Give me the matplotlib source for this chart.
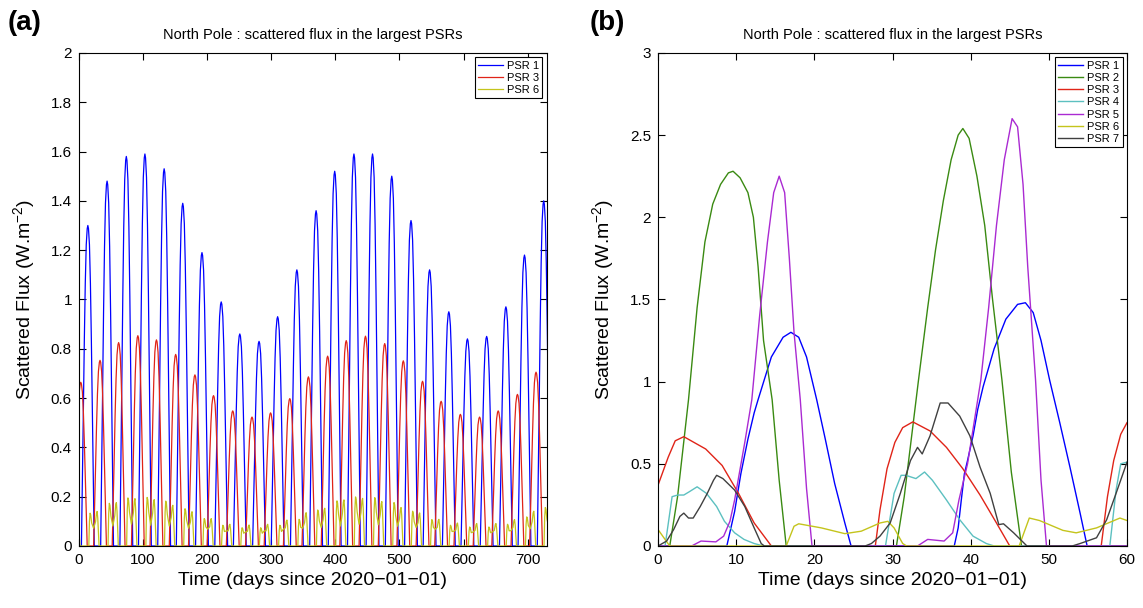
import matplotlib
matplotlib.use("Agg")
import matplotlib.pyplot as plt
import numpy as np

plt.rcParams['font.family'] = ['Liberation Sans', 'DejaVu Sans']
plt.rcParams['mathtext.default'] = 'regular'

# ---- panel (a): two years, one pulse per lunation ----
psr1_peak_days = [14, 44, 74, 103, 133, 162, 192, 222, 251, 281, 310, 340, 370,
                  399, 429, 458, 488, 518, 547, 577, 606, 636, 666, 695, 725]
psr1_peaks = [1.30, 1.48, 1.58, 1.59, 1.53, 1.39, 1.19, 0.99, 0.86, 0.83, 0.93,
              1.12, 1.36, 1.52, 1.59, 1.59, 1.50, 1.32, 1.12, 0.95, 0.84, 0.85,
              0.97, 1.18, 1.40]

psr3_peak_days = [3, 33, 62, 92, 121, 151, 181, 210, 240, 270, 299, 329, 358,
                  388, 417, 447, 477, 506, 536, 565, 595, 625, 654, 684, 713]
psr3_peaks = [0.664, 0.753, 0.825, 0.853, 0.836, 0.777, 0.694, 0.610, 0.548,
              0.523, 0.540, 0.598, 0.686, 0.770, 0.833, 0.851, 0.821, 0.751,
              0.668, 0.587, 0.534, 0.523, 0.548, 0.615, 0.705]

psr6_centre_days = [23, 53, 82, 112, 141, 171, 201, 230, 260, 289, 319, 349, 378,
                    408, 437, 467, 497, 526, 556, 585, 615, 645, 674, 704, 733]
psr6_first = [0.133, 0.173, 0.195, 0.197, 0.182, 0.151, 0.111, 0.084, 0.074,
              0.074, 0.084, 0.108, 0.146, 0.183, 0.199, 0.196, 0.176, 0.141,
              0.107, 0.084, 0.077, 0.077, 0.088, 0.118, 0.156]
psr6_second = [0.140, 0.176, 0.192, 0.188, 0.165, 0.139, 0.111, 0.088, 0.085,
               0.088, 0.105, 0.135, 0.153, 0.187, 0.193, 0.180, 0.156, 0.134,
               0.108, 0.093, 0.091, 0.091, 0.107, 0.141, 0.150]
psr6_dip = [0.072, 0.081, 0.088, 0.084, 0.081, 0.072, 0.068, 0.061, 0.057, 0.061,
            0.068, 0.072, 0.075, 0.081, 0.088, 0.086, 0.080, 0.075, 0.068, 0.060,
            0.057, 0.057, 0.062, 0.070, 0.075]

# pulse profile (days from peak, fraction of peak)
pulse_dt = [-10, -8.5, -7, -5.5, -4, -2.5, -1, 0, 1, 2.5, 4, 5.5, 7, 8.5, 10]
pulse_fr = [0, 0.2, 0.42, 0.64, 0.82, 0.94, 0.99, 1, 0.99, 0.94, 0.82, 0.64,
            0.42, 0.2, 0]

# ---- panel (b): first 60 days ----
b_psr1_t = [0, 8.8, 9.8, 10.6, 11.5, 12.3, 12.8, 14.5, 16, 17, 18, 19, 20.3, 21.4,
            22.6, 23.9, 24.7, 37.9, 38.4, 38.8, 39.2, 39.6, 40.3, 40.9, 41.6, 43,
            44.5, 46, 47, 48, 49, 50.1, 51.4, 52.7, 54.0, 54.9, 60]
b_psr1 = [0, 0, 0.21, 0.44, 0.65, 0.81, 0.89, 1.15, 1.27, 1.30, 1.27, 1.15, 0.89,
          0.65, 0.38, 0.14, 0, 0, 0.11, 0.28, 0.44, 0.52, 0.67, 0.83, 0.97, 1.2,
          1.38, 1.47, 1.48, 1.42, 1.25, 1.01, 0.75, 0.48, 0.20, 0, 0]

b_psr2_t = [0, 1.5, 2.5, 3.9, 5, 6, 7, 8, 9, 9.6, 10.5, 11.5, 12.2, 12.8, 13.5, 14.6,
            15.5, 16.4, 30.5, 31.5, 33.3, 34.5, 35.5, 36.5, 37.5, 38.4, 39, 39.8,
            40.8, 41.8, 42.8, 44, 45.2, 46.5, 60]
b_psr2 = [0, 0, 0.3, 0.89, 1.45, 1.85, 2.08, 2.2, 2.27, 2.28, 2.24, 2.15, 2.0,
          1.7, 1.25, 0.89, 0.4, 0, 0, 0.3, 1.0, 1.45, 1.8, 2.1, 2.35, 2.5, 2.54,
          2.48, 2.25, 1.95, 1.5, 1.01, 0.45, 0, 0]

b_psr3_t = [0, 1.3, 2.2, 3.3, 6.1, 8.2, 10.3, 12.3, 14.5, 27.8, 28.4, 29.3, 30.3,
            31.3, 32.6, 34.8, 36.9, 39.0, 41.2, 43.3, 45.0, 56.7, 57.5, 58.3,
            59.2, 60]
b_psr3 = [0.37, 0.54, 0.64, 0.665, 0.59, 0.49, 0.32, 0.14, 0, 0, 0.22, 0.47, 0.63,
          0.72, 0.755, 0.70, 0.60, 0.47, 0.31, 0.14, 0, 0, 0.3, 0.52, 0.68, 0.75]

b_psr4_t = [0, 0.9, 1.8, 2.5, 3.3, 4.0, 5.0, 6.2, 7.5, 8.5, 9.8, 11.0, 12.3, 13.5,
            29.1, 30.2, 31.1, 31.7, 33.0, 34.1, 35.1, 36.9, 38.6, 40.3, 42.0, 43.0,
            57.8, 58.6, 59.2, 60]
b_psr4 = [0, 0, 0.3, 0.31, 0.31, 0.33, 0.36, 0.32, 0.24, 0.15, 0.08, 0.04, 0.015, 0,
          0, 0.32, 0.43, 0.43, 0.41, 0.45, 0.40, 0.28, 0.16, 0.06, 0.015, 0,
          0, 0.34, 0.5, 0.51]

b_psr5_t = [0, 4.3, 5.5, 7.4, 8.4, 9.2, 9.8, 11.1, 12, 13, 14, 14.8, 15.5, 16.2,
            16.8, 17.4, 18.2, 19, 19.7, 33.2, 34.5, 36.6, 37.7, 38.5, 39.6, 40.5,
            41.3, 42.3, 43.3, 44.3, 45.3, 46, 46.7, 47.3, 48.3, 49, 49.7, 60]
b_psr5 = [0, 0, 0.03, 0.025, 0.06, 0.15, 0.28, 0.63, 0.89, 1.4, 1.85, 2.15, 2.25,
          2.15, 1.75, 1.3, 0.89, 0.35, 0, 0, 0.04, 0.03, 0.08, 0.28, 0.5, 0.77,
          1.01, 1.45, 1.95, 2.35, 2.6, 2.55, 2.2, 1.7, 1.01, 0.4, 0, 0]

b_psr6_t = [0, 1.5, 16.4, 17.4, 18.0, 20.9, 23.9, 26, 28.4, 29.4, 30.2, 31.3, 31.8,
            46.2, 47.5, 48.8, 51.8, 53.5, 56.1, 59.1, 60]
b_psr6 = [0.10, 0, 0, 0.12, 0.135, 0.11, 0.075, 0.09, 0.14, 0.15, 0.11, 0.015, 0,
          0, 0.17, 0.155, 0.095, 0.08, 0.11, 0.17, 0.155]

b_psr7_t = [0, 1.1, 2.0, 2.8, 3.3, 3.9, 4.5, 5.4, 6.3, 7.1, 7.5, 8.3, 9.8, 11.1,
            12.3, 13.2, 13.6, 26.5, 27.3, 28.4, 29.7, 31.0, 32.3, 33.2, 33.8, 34.8,
            36.1, 37.1, 38.6, 39.9, 41.2, 42.5, 43.6, 44.2, 45.5, 47.2, 53.0, 54.0,
            56.1, 57.4, 58.6, 60]
b_psr7 = [0, 0.03, 0.1, 0.18, 0.2, 0.17, 0.17, 0.24, 0.32, 0.40, 0.43, 0.41, 0.34,
          0.24, 0.11, 0.015, 0, 0, 0.015, 0.06, 0.14, 0.32, 0.52, 0.6, 0.56, 0.67,
          0.87, 0.87, 0.79, 0.67, 0.48, 0.32, 0.13, 0.135, 0.08, 0, 0, 0.015,
          0.05, 0.16, 0.32, 0.51]

a_xticks = [0, 100, 200, 300, 400, 500, 600, 700]
a_yticks = [0, 0.2, 0.4, 0.6, 0.8, 1, 1.2, 1.4, 1.6, 1.8, 2]
b_xticks = [0, 10, 20, 30, 40, 50, 60]
b_yticks = [0, 0.5, 1, 1.5, 2, 2.5, 3]

title = 'North Pole : scattered flux in the largest PSRs'
xlab = 'Time (days since 2020\u221201\u221201)'
ylab = 'Scattered Flux (W.m$^{-2}$)'

c_blue = '#0000ff'
c_red = '#e02418'
c_yel = '#c4c41c'
c_green = '#3a8a12'
c_cyan = '#5cc0c0'
c_mag = '#aa2ad2'
c_gray = '#404040'


def pulses(days, heights, dt, fr, start=None):
    t, v = [], []
    if start is not None:
        t += start[0]
        v += start[1]
    for d, h in zip(days, heights):
        t += [d + o for o in dt]
        v += [h * f for f in fr]
    return t, v


def yellow_pulses(centres, h1, dip, h2):
    t, v = [0, 1.5], [0.10, 0]
    for c, a, m, b in zip(centres, h1, dip, h2):
        t += [c - 7.5, c - 6.5, c - 5.5, c - 4.5, c - 3, c, c + 3, c + 4.5, c + 5.5,
              c + 6.5, c + 8.5]
        v += [0, 0.75 * a, a, 0.95 * a, 0.7 * a, m, 0.7 * b, 0.95 * b, b, 0.8 * b, 0]
    return t, v


def style(ax, xt, yt, xlim, ylim):
    ax.set_xlim(xlim)
    ax.set_ylim(ylim)
    ax.set_xticks(xt)
    ax.set_yticks(yt)
    ax.set_xticklabels([('%g' % x) for x in xt])
    ax.set_yticklabels([('%g' % y) for y in yt])
    ax.tick_params(direction='in', top=True, right=True, length=5, width=0.8,
                   labelsize=11, pad=5)
    for s in ax.spines.values():
        s.set_linewidth(0.8)
    ax.set_title(title, fontsize=10.5, pad=10)
    ax.set_xlabel(xlab, fontsize=14, labelpad=4)
    ax.set_ylabel(ylab, fontsize=14, labelpad=10)


fig = plt.figure(figsize=(11.43, 6.08), dpi=100)
ax1 = fig.add_axes([0.069, 0.102, 0.4095, 0.811])
ax2 = fig.add_axes([0.5757, 0.102, 0.4103, 0.811])

t1, v1 = pulses(psr1_peak_days, psr1_peaks, pulse_dt, pulse_fr, ([0], [0]))
t3, v3 = pulses(psr3_peak_days, psr3_peaks, pulse_dt, pulse_fr)
t6, v6 = yellow_pulses(psr6_centre_days, psr6_first, psr6_dip, psr6_second)
ax1.plot(t1, v1, color=c_blue, lw=0.9, label='PSR 1')
ax1.plot(t3, v3, color=c_red, lw=0.9, label='PSR 3')
ax1.plot(t6, np.clip(v6, 0, None), color=c_yel, lw=0.9, label='PSR 6')
style(ax1, a_xticks, a_yticks, (0, 730), (0, 2))

ax2.plot(b_psr1_t, b_psr1, color=c_blue, lw=1.0, label='PSR 1')
ax2.plot(b_psr2_t, b_psr2, color=c_green, lw=1.0, label='PSR 2')
ax2.plot(b_psr3_t, b_psr3, color=c_red, lw=1.0, label='PSR 3')
ax2.plot(b_psr4_t, b_psr4, color=c_cyan, lw=1.0, label='PSR 4')
ax2.plot(b_psr5_t, b_psr5, color=c_mag, lw=1.0, label='PSR 5')
ax2.plot(b_psr6_t, b_psr6, color=c_yel, lw=1.0, label='PSR 6')
ax2.plot(b_psr7_t, b_psr7, color=c_gray, lw=1.0, label='PSR 7')
style(ax2, b_xticks, b_yticks, (0, 60), (0, 3))

for ax in (ax1, ax2):
    leg = ax.legend(loc='upper right', fontsize=8, fancybox=False, framealpha=1,
                    edgecolor='black', handlelength=2.2, handletextpad=0.4,
                    borderpad=0.3, labelspacing=0.2, borderaxespad=0.4)
    leg.get_frame().set_linewidth(0.8)

fig.text(0.007, 0.962, '(a)', fontsize=20, fontweight='bold', va='center')
fig.text(0.516, 0.962, '(b)', fontsize=20, fontweight='bold', va='center')

fig.savefig('out.png', dpi=100)
